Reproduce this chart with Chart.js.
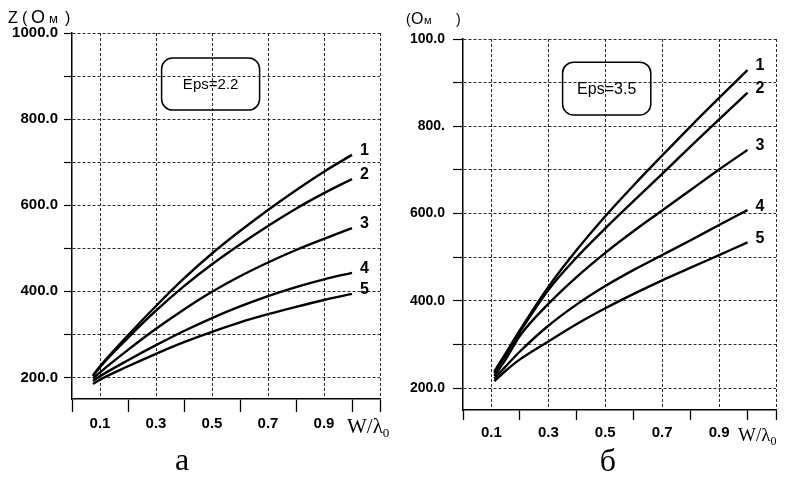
<!DOCTYPE html>
<html><head><meta charset="utf-8">
<script src="https://cdn.jsdelivr.net/npm/chart.js@4/dist/chart.umd.min.js"></script>
<style>
html,body{margin:0;padding:0;background:#fff;}
#wrap{position:relative;width:793px;height:484px;overflow:hidden;background:#fff;}
canvas{position:absolute;top:0;}
</style></head><body>
<div id="wrap">
<canvas id="cA" width="400" height="484" style="left:0;width:400px;height:484px"></canvas>
<canvas id="cB" width="393" height="484" style="left:400px;width:393px;height:484px"></canvas>
</div>
<script>
// ---- data ----
const seriesNames = ['1', '2', '3', '4', '5'];

// panel a (Eps = 2.2)
const wA  = [0.075, 0.1, 0.2, 0.3, 0.4, 0.5, 0.6, 0.7, 0.8, 0.9, 1.0];
const zA1 = [205, 226, 298, 366, 430, 488, 540, 589, 635, 678, 717];
const zA2 = [203, 224, 292, 355, 412, 463, 509, 552, 592, 628, 661];
const zA3 = [198, 212, 264, 313, 358, 399, 435, 467, 496, 522, 547];
const zA4 = [192, 203, 240, 275, 308, 338, 365, 389, 410, 428, 443];
const zA5 = [185, 195, 226, 255, 282, 306, 328, 347, 364, 380, 394];

// panel б (Eps = 3.5)
const wB  = [0.11, 0.15, 0.2, 0.3, 0.4, 0.5, 0.6, 0.7, 0.8, 0.9, 1.0];
const zB1 = [238, 280, 333, 432, 517, 594, 665, 733, 800, 865, 929];
const zB2 = [234, 276, 329, 425, 500, 566, 629, 691, 754, 816, 877];
const zB3 = [228, 266, 320, 393, 455, 510, 560, 607, 654, 701, 746];
const zB4 = [222, 250, 284, 343, 392, 434, 471, 505, 539, 574, 608];
const zB5 = [216, 240, 266, 307, 347, 383, 416, 447, 476, 505, 534];

// ticks
const xTicks      = [0, 0.1, 0.2, 0.3, 0.4, 0.5, 0.6, 0.7, 0.8, 0.9, 1.0, 1.1];
const xTickLabels = ['', '0.1', '', '0.3', '', '0.5', '', '0.7', '', '0.9', '', ''];
const yTicks       = [200, 300, 400, 500, 600, 700, 800, 900, 1000];
const yTickLabelsA = ['200.0', '', '400.0', '', '600.0', '', '800.0', '', '1000.0'];
const yTickLabelsB = ['200.0', '', '400.0', '', '600.0', '', '800.', '', '100.0'];
const epsA = 'Eps=2.2';
const epsB = 'Eps=3.5';

// ---- drawing ----
const INK = '#000';
const GRID = '#2a2a2a';
const CLEAR = 'rgba(0,0,0,0)';
const SANS = '"Liberation Sans", Arial, sans-serif';
const SERIF = '"Liberation Serif", "Times New Roman", serif';

const annot = {
  id: 'annot',
  afterDatasetsDraw(chart, args, o) {
    const ctx = chart.ctx;
    const xs = chart.scales.x, ys = chart.scales.y;
    ctx.save();
    ctx.fillStyle = INK; ctx.strokeStyle = INK;
    // Eps box
    const bx0 = xs.getPixelForValue(o.box[0]), bx1 = xs.getPixelForValue(o.box[1]);
    const by0 = ys.getPixelForValue(o.box[2]), by1 = ys.getPixelForValue(o.box[3]);
    ctx.lineWidth = 1.5;
    ctx.beginPath();
    ctx.roundRect(bx0, by0, bx1 - bx0, by1 - by0, 11);
    ctx.stroke();
    ctx.font = o.epsFont;
    ctx.textAlign = 'center'; ctx.textBaseline = 'middle';
    ctx.fillText(o.eps, (bx0 + bx1) / 2, (by0 + by1) / 2 + 1);
    // curve numbers
    ctx.font = 'bold 16px ' + SANS;
    ctx.textAlign = 'left';
    chart.data.datasets.forEach((ds, i) => {
      const meta = chart.getDatasetMeta(i);
      const last = meta.data[meta.data.length - 1];
      ctx.fillText(ds.label, last.x + 8, last.y - 4);
    });
    // axis title (Z(Ом ))
    ctx.textBaseline = 'alphabetic';
    ctx.textAlign = 'left';
    o.title.forEach(t => { ctx.font = t.f; ctx.fillText(t.s, t.x, t.y); });
    // W/λ0
    const wx = o.wlam.x, wy = o.wlam.y;
    ctx.font = o.wlam.f;
    ctx.fillText('W/λ', wx, wy);
    const ww = ctx.measureText('W/λ').width;
    ctx.font = o.wlam.fs;
    ctx.fillText('0', wx + ww, wy + 4);
    // caption
    ctx.font = o.cap.f;
    ctx.textAlign = 'center';
    ctx.fillText(o.cap.s, o.cap.x, o.cap.y);
    ctx.restore();
  }
};

function makeDatasets(w, arrs) {
  return arrs.map((a, i) => ({
    label: seriesNames[i],
    data: a.map((v, k) => ({ x: w[k], y: v })),
    borderColor: INK,
    borderWidth: 2.4,
    pointRadius: 0,
    fill: false,
    cubicInterpolationMode: 'monotone'
  }));
}

function makeChart(id, w, arrs, yLabels, L, ann) {
  return new Chart(document.getElementById(id), {
    type: 'line',
    data: { datasets: makeDatasets(w, arrs) },
    options: {
      responsive: false, animation: false, devicePixelRatio: 1,
      layout: { padding: { top: L.top, right: L.right, left: 0, bottom: 0 } },
      plugins: { legend: { display: false }, tooltip: { enabled: false }, annot: ann },
      scales: {
        x: {
          type: 'linear', min: 0, max: 1.1,
          afterBuildTicks: s => { s.ticks = xTicks.map(v => ({ value: v })); },
          afterFit: s => { s.height = L.xh; },
          ticks: {
            autoSkip: false, maxRotation: 0, padding: L.xpad, color: INK,
            font: { family: SANS, size: L.xfs, weight: 'bold' },
            callback: (v, i) => xTickLabels[i]
          },
          grid: {
            color: c => (xTickLabels[c.index] !== '' || c.index === xTicks.length - 1) ? GRID : CLEAR,
            tickColor: c => (xTickLabels[c.index] === '') ? INK : CLEAR,
            lineWidth: 1, tickLength: L.xtl, tickWidth: 1.3
          },
          border: { display: true, color: INK, width: 1.5, dash: [3, 2] }
        },
        y: {
          type: 'linear', min: 150, max: 1000,
          afterBuildTicks: s => { s.ticks = yTicks.map(v => ({ value: v })); },
          afterFit: s => { s.width = L.yw; },
          ticks: {
            autoSkip: false, padding: L.ypad, color: INK,
            font: { family: SANS, size: L.yfs, weight: 'bold' },
            callback: (v, i) => yLabels[i]
          },
          grid: { color: GRID, lineWidth: 1, tickLength: L.ytl, tickColor: INK, tickWidth: 1.2 },
          border: { display: true, color: INK, width: 1.5, dash: [3, 2] }
        }
      }
    },
    plugins: [annot]
  });
}

makeChart('cA', wA, [zA1, zA2, zA3, zA4, zA5], yTickLabelsA,
  { top: 33, right: 20, xh: 85, yw: 72, xpad: 3, xfs: 15, xtl: 13, ypad: 6, yfs: 15, ytl: 8 },
  {
    box: [0.32, 0.67, 942, 821], eps: epsA, epsFont: '15px ' + SANS,
    title: [
      { s: 'Z', x: 8, y: 23, f: '16px ' + SANS },
      { s: '(', x: 22, y: 23, f: '16px ' + SANS },
      { s: 'О', x: 31, y: 23, f: '18px ' + SANS },
      { s: 'м', x: 49, y: 23, f: '13px ' + SANS },
      { s: ')', x: 65, y: 23, f: '16px ' + SANS }
    ],
    wlam: { x: 347, y: 433, f: '21px ' + SERIF, fs: '13px ' + SERIF },
    cap: { s: 'а', x: 182, y: 470, f: '32px ' + SERIF }
  });

makeChart('cB', wB, [zB1, zB2, zB3, zB4, zB5], yTickLabelsB,
  { top: 39, right: 17, xh: 74, yw: 63, xpad: 4, xfs: 15, xtl: 10, ypad: 8, yfs: 14, ytl: 10 },
  {
    box: [0.35, 0.66, 947, 826], eps: epsB, epsFont: '16px ' + SANS,
    title: [
      { s: '(', x: 6, y: 24, f: '14px ' + SANS },
      { s: 'О', x: 11, y: 24, f: '16px ' + SANS },
      { s: 'м', x: 24, y: 24, f: '11px ' + SANS },
      { s: ')', x: 56, y: 24, f: '14px ' + SANS }
    ],
    wlam: { x: 338, y: 441, f: '19px ' + SERIF, fs: '12px ' + SERIF },
    cap: { s: 'б', x: 208, y: 471, f: '32px ' + SERIF }
  });
</script>
</body></html>
